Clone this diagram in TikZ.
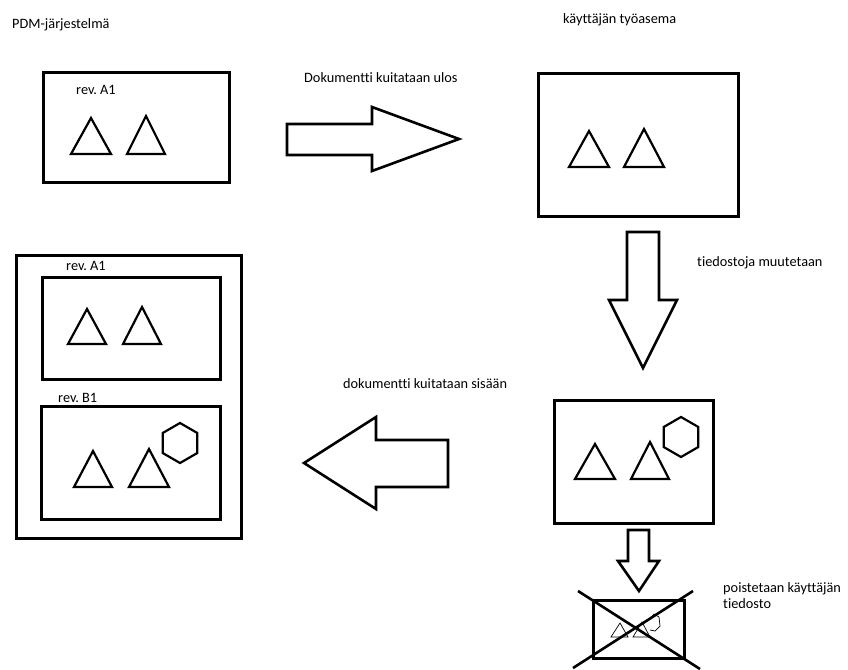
\documentclass[tikz,border=0pt]{standalone}
\usepackage{fontspec}
\setmainfont{Carlito}[Ligatures=NoCommon]
\frenchspacing
\tikzset{
  box/.style={draw, line width=2.6pt, inner sep=0pt, anchor=north west},
  blk/.style={draw, line width=2.6pt, line join=miter},
  shp/.style={draw, line width=2.2pt},
  thinshp/.style={draw, line width=0.7pt},
  lbl/.style={anchor=west, inner sep=0pt, font=\fontsize{14.3}{16}\selectfont},
}
\newcommand{\tri}[4]{\draw[shp] (#1,#2) -- (#3,#4) -- ({2*#3-#1},#2) -- cycle;}
\newcommand{\hexa}[3]{\draw[shp] (#1,#2) +(90:#3) -- +(150:#3) -- +(210:#3) -- +(270:#3) -- +(330:#3) -- +(30:#3) -- cycle;}
\begin{document}
\begin{tikzpicture}[x=1pt,y=-1pt]
\useasboundingbox (0,0) rectangle (848,669);
% labels
\node[lbl] (tpdm) at (12,25) {PDM-järjestelmä};
\node[lbl] (tws) at (563,20) {käyttäjän työasema};
\node[lbl] (tout) at (304,78) {Dokumentti kuitataan ulos};
\node[lbl] (tmod) at (697,263) {tiedostoja muutetaan};
\node[lbl] (tin) at (343,384) {dokumentti kuitataan sisään};
\node[lbl, align=left] (tdel) at (723,596) {poistetaan käyttäjän\\tiedosto};
% PDM box top-left
\node[box, minimum width=186pt, minimum height=110pt] (b1) at (42,71) {};
\node[lbl] (ra1) at (76,90) {rev. A1};
\tri{71}{154}{91}{118}
\tri{127}{154}{146}{116}
% right arrow
\draw[blk] (287,124) -- (372,124) -- (372,107) -- (459,139) -- (372,171) -- (372,155) -- (287,155) -- cycle;
% workstation box
\node[box, minimum width=200pt, minimum height=143pt] (b2) at (537,72) {};
\tri{569}{167}{589}{131}
\tri{624}{167}{644}{129}
% down arrow
\draw[blk] (627,232) -- (659,232) -- (659,300) -- (677,300) -- (643,368) -- (609,300) -- (627,300) -- cycle;
% modified box
\node[box, minimum width=159pt, minimum height=123pt] (b3) at (553,399) {};
\tri{575}{479}{595}{444}
\tri{631}{479}{650}{442}
\hexa{681}{437}{20}
% left arrow
\draw[blk] (448,440) -- (376,440) -- (376,417) -- (304,463) -- (376,509) -- (376,487) -- (448,487) -- cycle;
% PDM box with revisions
\node[box, minimum width=225pt, minimum height=283pt] (b4) at (15,254) {};
\node[lbl] (ra2) at (66,266) {rev. A1};
\node[box, minimum width=178pt, minimum height=102pt] (b5) at (41,276) {};
\tri{68}{344}{87}{309}
\tri{123}{344}{142}{307}
\node[lbl] (rb1) at (58,398) {rev. B1};
\node[box, minimum width=179pt, minimum height=113pt] (b6) at (40,405) {};
\tri{74}{487}{93}{451}
\tri{129}{487}{149}{449}
\hexa{180}{443}{20}
% small down arrow
\draw[blk] (628,530) -- (649,530) -- (649,561) -- (659,561) -- (639,591) -- (618,561) -- (628,561) -- cycle;
% deleted file
\node[box, minimum width=91pt, minimum height=58pt] (b7) at (592,599) {};
\draw[thinshp] (611,637) -- (620,623) -- (628,637) -- cycle;
\draw[thinshp] (633,637) -- (642,622) -- (650,637) -- cycle;
\draw[thinshp] (650,619) -- (654,614) -- (659,617) -- (660,626) -- (655,631) -- (650,630);
\coordinate (c1) at (573,668);
\coordinate (c2) at (693,591);
\coordinate (c3) at (578,591);
\coordinate (c4) at (700,669);
\draw[line width=2.6pt] (c1) -- (c2);
\draw[line width=2.6pt] (c3) -- (c4);
\end{tikzpicture}
\end{document}
